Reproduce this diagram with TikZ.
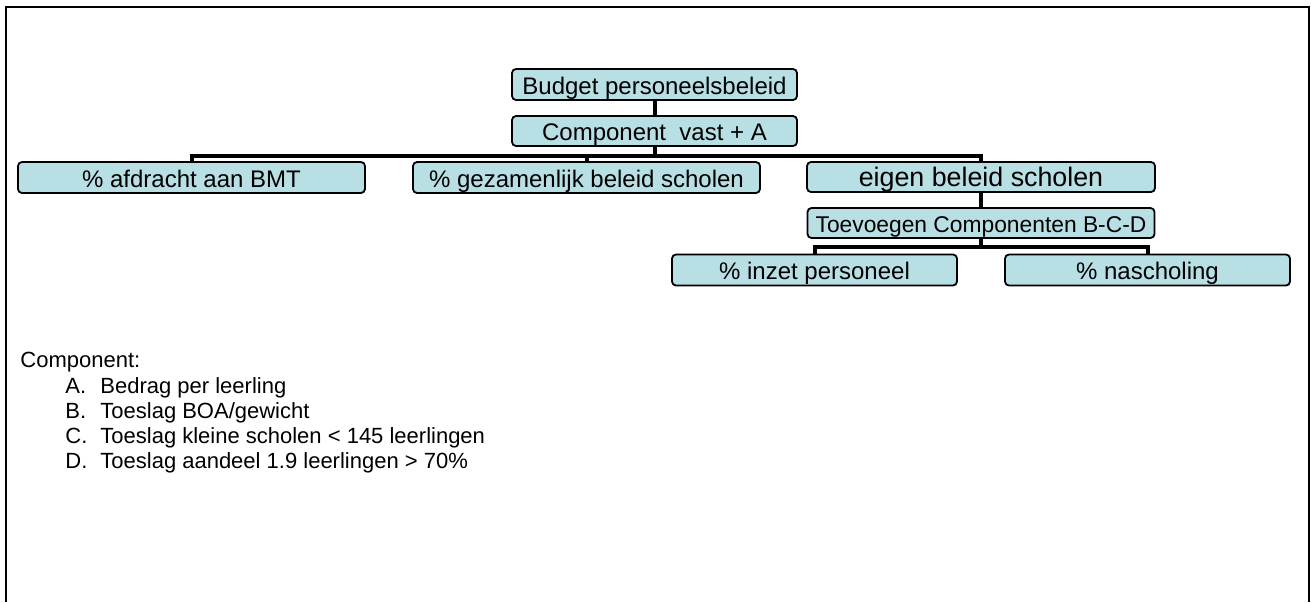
\documentclass[tikz,border=0pt]{standalone}
\usepackage{fontspec}
\setmainfont{Liberation Sans}
\usetikzlibrary{positioning}
\definecolor{boxfill}{RGB}{184,223,228}
\tikzset{
  box/.style={draw=black, line width=0.9pt, rounded corners=2pt, fill=boxfill, inner sep=0pt,
    text height=9.5pt, text depth=0pt, font=\fontsize{12}{14}\selectfont},
  link/.style={line width=2pt},
  item/.style={anchor=base west, inner sep=0pt, font=\fontsize{11}{12.5}\selectfont}
}
\begin{document}
\begin{tikzpicture}[x=0.5pt, y=-0.5pt]
  \useasboundingbox (0,0) rectangle (1312,602);
  %%%%% FRAME %%%%%
  \draw[line width=0.9pt] (6,602) -- (6,7) -- (1309,7) -- (1309,602);

  %%%%% TREE %%%%%
  \node[box, minimum width=142.5pt, minimum height=15.5pt] (budget) at (654.5,84.5) {Budget personeelsbeleid};
  \node[box, minimum width=142.5pt, minimum height=15pt] (comp) at (654.5,131) {Component\ \ vast + A};

  \node[box, minimum width=173.5pt, minimum height=15.5pt] (afdracht) at (191.5,177.5) {\% afdracht aan BMT};
  \node[box, minimum width=173.5pt, minimum height=15.5pt] (gezamenlijk) at (586.5,177.5) {\% gezamenlijk beleid scholen};
  \node[box, minimum width=174pt, minimum height=15pt, font=\fontsize{13.4}{15}\selectfont] (eigen) at (981,177) {eigen beleid scholen};

  \node[box, minimum width=173.5pt, minimum height=15pt, font=\fontsize{11.4}{13}\selectfont] (toevoegen) at (981,223) {Toevoegen Componenten B-C-D};
  \node[box, minimum width=142.5pt, minimum height=15.5pt] (inzet) at (814.5,270) {\% inzet personeel};
  \node[box, minimum width=142.5pt, minimum height=15.5pt] (nascholing) at (1147.5,270) {\% nascholing};

  \draw[link] (budget) -- (comp);
  \draw[link] (comp.south) -- ++(0,9) -| (afdracht.north);
  \draw[link] (comp.south) -- ++(0,9) -| (gezamenlijk.north);
  \draw[link] (comp.south) -- ++(0,9) -| (eigen.north);
  \draw[link] (eigen) -- (toevoegen);
  \draw[link] (toevoegen.south) -- ++(0,8) -| (inzet.north);
  \draw[link] (toevoegen.south) -- ++(0,8) -| (nascholing.north);

  %%%%% LEGEND %%%%%
  \node[item] (legend) at (20,367) {Component:};
  \node[item] (letA) at (65,393) {A.};
  \node[item] (itemA) at (100,393) {Bedrag per leerling};
  \node[item] (letB) at (65,418) {B.};
  \node[item] (itemB) at (100,418) {Toeslag BOA/gewicht};
  \node[item] (letC) at (65,443) {C.};
  \node[item] (itemC) at (100,443) {Toeslag kleine scholen < 145 leerlingen};
  \node[item] (letD) at (65,468) {D.};
  \node[item] (itemD) at (100,468) {Toeslag aandeel 1.9 leerlingen > 70\%};
\end{tikzpicture}
\end{document}
